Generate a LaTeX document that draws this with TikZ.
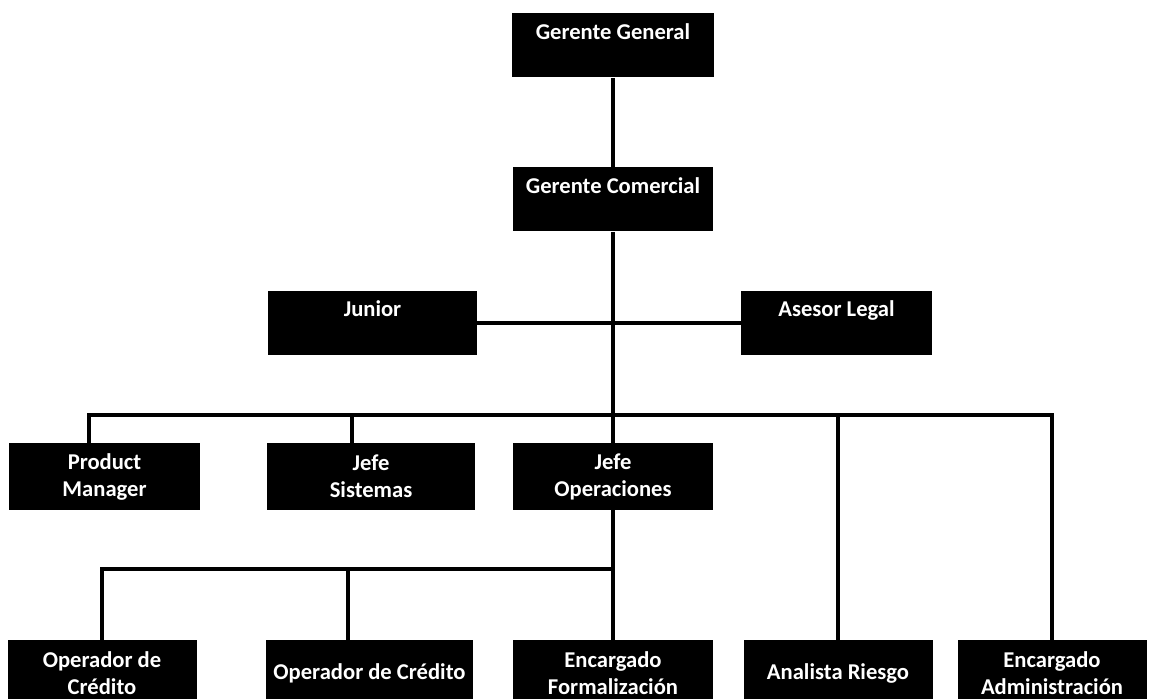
\documentclass[tikz,border=0pt]{standalone}
\usepackage{fontspec}
\setmainfont{Carlito}
\begin{document}
\begin{tikzpicture}[x=0.5pt,y=-0.5pt,
  puesto/.style={fill=black, text=white, inner sep=0pt, align=center,
    font=\fontsize{11.3}{13.5}\selectfont\bfseries},
  puestoalto/.style={puesto, text height=13pt, text depth=19pt},
  linea/.style={line width=1.6pt}]
  \useasboundingbox (0,0) rectangle (1150,699);
  \def\fila{476.5}
  \def\base{673}

  % direccion
  \node[puestoalto, minimum width=101pt] (gg) at (613,45.5) {Gerente General};
  \node[puestoalto, minimum width=100pt] (gc) at (613,199.5) {Gerente Comercial};
  \node[puestoalto, minimum width=104.5pt] (junior) at (372.5,323) {Junior};
  \node[puestoalto, minimum width=95.5pt] (asesor) at (836.5,323) {Asesor Legal};

  \node[puesto, minimum width=95.5pt, minimum height=33.5pt] (pm) at (104.5,\fila) {Product\\Manager};
  \node[puesto, minimum width=104pt, minimum height=33.5pt] (js) at (371,\fila) {Jefe\\Sistemas};
  \node[puesto, minimum width=100pt, minimum height=33.5pt] (jo) at (613,\fila) {Jefe\\Operaciones};

  \node[puesto, minimum width=94.5pt, minimum height=33pt] (oc1) at (102,\base) {Operador de\\Cr\'edito};
  \node[puesto, minimum width=103.5pt, minimum height=33pt] (oc2) at (369.5,\base) {Operador de Cr\'edito};
  \node[puesto, minimum width=100pt, minimum height=33pt] (ef) at (613,\base) {Encargado\\Formalizaci\'on};
  \node[puesto, minimum width=94.5pt, minimum height=33pt] (ar) at (838,\base) {Analista Riesgo};
  \node[puesto, minimum width=94.5pt, minimum height=33pt] (ea) at (1052,\base) {Encargado\\Administraci\'on};

  \coordinate (b1) at (89,415);
  \coordinate (b2) at (352,415);
  \coordinate (b5) at (838,415);
  \coordinate (b6) at (1052,415);
  \coordinate (s2) at (348,569);
  \coordinate (s3) at (613,569);

  \draw[linea] (gg) -- (gc);
  \draw[linea] (gc) -- (jo);
  \draw[linea] (junior) -- (asesor);
  \draw[linea] (pm.north -| b1) -- (b1) -- (b6) -- (ea.north);
  \draw[linea] (b2) -- (b2 |- js.north);
  \draw[linea] (b5) -- (ar.north);

  \draw[linea] (jo) -- (ef);
  \draw[linea] (oc1.north) |- (s3);
  \draw[linea] (s2) -- (s2 |- oc2.north);
\end{tikzpicture}
\end{document}
